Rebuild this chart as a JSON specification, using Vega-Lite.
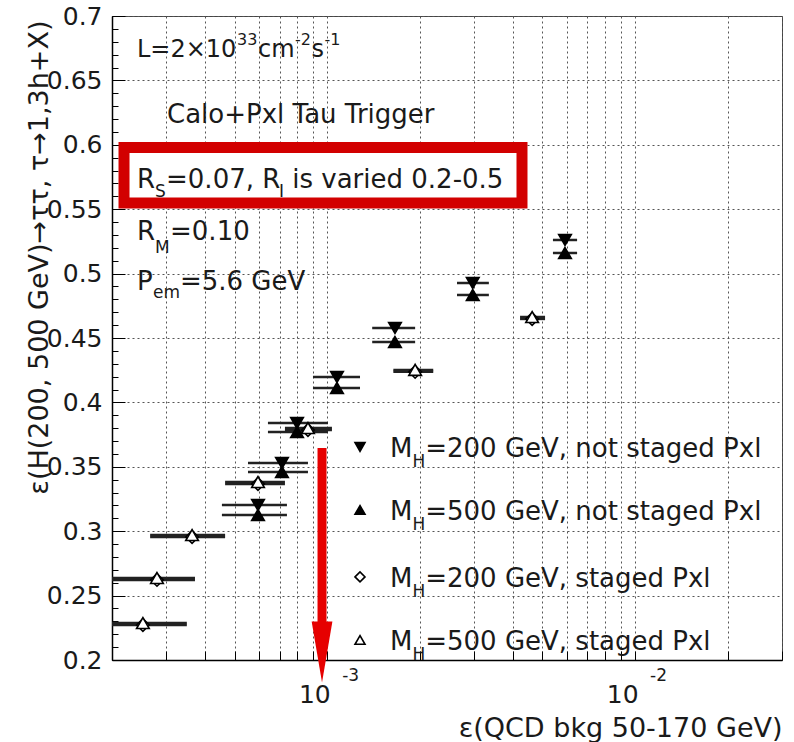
{
  "$schema": "https://vega.github.io/schema/vega-lite/v6.json",
  "width": 670,
  "height": 644,
  "autosize": {"type": "none"},
  "padding": {"left": 112, "top": 16, "right": 12, "bottom": 82},
  "background": "white",
  "config": {"view": {"stroke": "#444", "strokeWidth": 1}, "font": "DejaVu Sans"},
  "datasets": {
    "points": [
      {"series": "200 staged", "x": 0.00463, "y": 0.4648, "xlo": 0.00423, "xhi": 0.0051},
      {"series": "200 staged", "x": 0.00193, "y": 0.4237, "xlo": 0.00164, "xhi": 0.00221},
      {"series": "200 staged", "x": 0.000866, "y": 0.3786, "xlo": 0.000729, "xhi": 0.001036},
      {"series": "200 staged", "x": 0.000596, "y": 0.3367, "xlo": 0.000466, "xhi": 0.000729},
      {"series": "200 staged", "x": 0.000364, "y": 0.2955, "xlo": 0.000266, "xhi": 0.000466},
      {"series": "200 staged", "x": 0.00028, "y": 0.2622, "xlo": 0.00019, "xhi": 0.000372},
      {"series": "200 staged", "x": 0.000252, "y": 0.2272, "xlo": 0.000184, "xhi": 0.00035},
      {"series": "500 staged", "x": 0.00463, "y": 0.4663, "xlo": 0.00423, "xhi": 0.0051},
      {"series": "500 staged", "x": 0.00193, "y": 0.4252, "xlo": 0.00164, "xhi": 0.00221},
      {"series": "500 staged", "x": 0.000866, "y": 0.3801, "xlo": 0.000729, "xhi": 0.001036},
      {"series": "500 staged", "x": 0.000596, "y": 0.3382, "xlo": 0.000466, "xhi": 0.000729},
      {"series": "500 staged", "x": 0.000364, "y": 0.297, "xlo": 0.000266, "xhi": 0.000466},
      {"series": "500 staged", "x": 0.00028, "y": 0.2637, "xlo": 0.00019, "xhi": 0.000372},
      {"series": "500 staged", "x": 0.000252, "y": 0.2287, "xlo": 0.000184, "xhi": 0.00035},
      {"series": "200 not staged", "x": 0.00592, "y": 0.5261, "xlo": 0.00541, "xhi": 0.00648},
      {"series": "200 not staged", "x": 0.00297, "y": 0.4927, "xlo": 0.00264, "xhi": 0.00335},
      {"series": "200 not staged", "x": 0.00166, "y": 0.4578, "xlo": 0.0014, "xhi": 0.00193},
      {"series": "200 not staged", "x": 0.001076, "y": 0.4197, "xlo": 0.000899, "xhi": 0.001278},
      {"series": "200 not staged", "x": 0.000798, "y": 0.384, "xlo": 0.000642, "xhi": 0.001006},
      {"series": "200 not staged", "x": 0.000713, "y": 0.353, "xlo": 0.000553, "xhi": 0.000866},
      {"series": "200 not staged", "x": 0.000596, "y": 0.3203, "xlo": 0.000455, "xhi": 0.00074},
      {"series": "500 not staged", "x": 0.00592, "y": 0.516, "xlo": 0.00541, "xhi": 0.00648},
      {"series": "500 not staged", "x": 0.00297, "y": 0.4834, "xlo": 0.00264, "xhi": 0.00335},
      {"series": "500 not staged", "x": 0.00166, "y": 0.4469, "xlo": 0.0014, "xhi": 0.00193},
      {"series": "500 not staged", "x": 0.001076, "y": 0.4112, "xlo": 0.000899, "xhi": 0.001278},
      {"series": "500 not staged", "x": 0.000798, "y": 0.377, "xlo": 0.000642, "xhi": 0.001006},
      {"series": "500 not staged", "x": 0.000713, "y": 0.346, "xlo": 0.000553, "xhi": 0.000866},
      {"series": "500 not staged", "x": 0.000596, "y": 0.3126, "xlo": 0.000455, "xhi": 0.00074}
    ],
    "legend": [
      {"series": "200 not staged", "sy": 0.3654, "ty": 0.3576, "tys": 0.3498, "label": "=200 GeV, not staged Pxl"},
      {"series": "500 not staged", "sy": 0.3165, "ty": 0.3087, "tys": 0.3009, "label": "=500 GeV, not staged Pxl"},
      {"series": "200 staged", "sy": 0.2645, "ty": 0.2567, "tys": 0.2489, "label": "=200 GeV, staged Pxl"},
      {"series": "500 staged", "sy": 0.2156, "ty": 0.2078, "tys": 0.2, "label": "=500 GeV, staged Pxl"}
    ],
    "lumi": [
      {"t": "L=2×10", "x": 0.0002411, "y": 0.6682},
      {"t": "cm", "x": 0.0005961, "y": 0.6682},
      {"t": "s", "x": 0.0008893, "y": 0.6682}
    ],
    "lumisup": [
      {"t": "33", "x": 0.0005093, "y": 0.6775},
      {"t": "-2", "x": 0.0007858, "y": 0.6775},
      {"t": "-1", "x": 0.00098, "y": 0.6775}
    ],
    "notes": [
      {"t": "Calo+Pxl Tau Trigger", "x": 0.0003018, "y": 0.6169},
      {"t": "R", "x": 0.0002411, "y": 0.5665},
      {"t": "=0.07, R", "x": 0.0002996, "y": 0.5665},
      {"t": "is varied 0.2-0.5", "x": 0.00077, "y": 0.5665},
      {"t": "R", "x": 0.0002411, "y": 0.5261},
      {"t": "=0.10", "x": 0.0003087, "y": 0.5261},
      {"t": "P", "x": 0.0002411, "y": 0.4873},
      {"t": "=5.6 GeV", "x": 0.0003325, "y": 0.4873}
    ],
    "smallnotes": [
      {"t": "S", "x": 0.0002759, "y": 0.5595},
      {"t": "I", "x": 0.0006973, "y": 0.5595},
      {"t": "M", "x": 0.0002759, "y": 0.516},
      {"t": "em", "x": 0.0002718, "y": 0.4811}
    ],
    "box": [{"x": 0.0002188, "x2": 0.004292, "y": 0.598, "y2": 0.5548}],
    "arrow": [{"x": 0.000962, "y": 0.3646, "y2": 0.2295, "yh": 0.2062}],
    "xsup": [{"x": 0.001, "t": "-3"}, {"x": 0.01, "t": "-2"}]
  },
  "resolve": {"axis": {"x": "independent", "y": "independent"}},
  "layer": [
    {
      "data": {"name": "points"},
      "mark": {"type": "rule", "color": "#222", "strokeWidth": 2.5, "clip": true},
      "encoding": {
        "x": {
          "field": "xlo", "type": "quantitative",
          "scale": {"type": "log", "domain": [0.0002, 0.03], "nice": false},
          "axis": {
            "values": [0.0002, 0.0003, 0.0004, 0.0005, 0.0006, 0.0007, 0.0008, 0.0009, 0.001, 0.002, 0.003, 0.004, 0.005, 0.006, 0.007, 0.008, 0.009, 0.01, 0.02, 0.03],
            "labelExpr": "datum.value == 0.001 || datum.value == 0.01 ? '10' : ''",
            "grid": true, "gridDash": [2, 3], "gridColor": "#555", "gridWidth": 1,
            "tickSize": -9, "tickColor": "black", "domainColor": "black", "domainWidth": 1.5,
            "labelFont": "DejaVu Sans", "labelFontSize": 25, "labelColor": "#1a1a1a",
            "labelAlign": "right", "labelOffset": 3, "labelBaseline": "alphabetic", "labelPadding": 51,
            "labelFlush": false, "labelOverlap": false, "labelBound": false,
            "title": "ε(QCD bkg 50-170 GeV)", "titleFont": "DejaVu Sans", "titleFontSize": 27, "titleFontWeight": "normal", "titleColor": "#1a1a1a",
            "titleAnchor": "end", "titleAlign": "right", "titleBaseline": "alphabetic", "titleX": 670, "titleY": 76
          }
        },
        "x2": {"field": "xhi"},
        "y": {
          "field": "y", "type": "quantitative",
          "scale": {"domain": [0.2, 0.7], "nice": false, "zero": false},
          "axis": {
            "values": [0.2, 0.25, 0.3, 0.35, 0.4, 0.45, 0.5, 0.55, 0.6, 0.65, 0.7],
            "format": ".2~f",
            "grid": true, "gridDash": [2, 3], "gridColor": "#555", "gridWidth": 1,
            "tickSize": -13, "tickColor": "black", "domainColor": "black", "domainWidth": 1.5,
            "labelFont": "DejaVu Sans", "labelFontSize": 25, "labelColor": "#1a1a1a", "labelPadding": 23,
            "labelBaseline": "middle", "labelFlush": false, "labelOverlap": false, "labelBound": false,
            "title": "ε(H(200, 500 GeV)→ττ, τ→1,3h+X)", "titleFont": "DejaVu Sans", "titleFontSize": 27, "titleFontWeight": "normal", "titleColor": "#1a1a1a",
            "titleAnchor": "end", "titleAngle": 270, "titleAlign": "right", "titleBaseline": "alphabetic", "titleX": -65, "titleY": 4
          }
        }
      }
    },
    {
      "data": {"name": "points"},
      "mark": {"type": "point", "filled": true, "stroke": "black", "strokeWidth": 1.6, "opacity": 1},
      "encoding": {
        "x": {"field": "x", "type": "quantitative", "scale": {"type": "log", "domain": [0.0002, 0.03], "nice": false}, "axis": null},
        "y": {
          "field": "y", "type": "quantitative", "scale": {"domain": [0.2, 0.7], "nice": false, "zero": false},
          "axis": {
            "values": [0.2, 0.21, 0.22, 0.23, 0.24, 0.25, 0.26, 0.27, 0.28, 0.29, 0.3, 0.31, 0.32, 0.33, 0.34, 0.35, 0.36, 0.37, 0.38, 0.39, 0.4, 0.41, 0.42, 0.43, 0.44, 0.45, 0.46, 0.47, 0.48, 0.49, 0.5, 0.51, 0.52, 0.53, 0.54, 0.55, 0.56, 0.57, 0.58, 0.59, 0.6, 0.61, 0.62, 0.63, 0.64, 0.65, 0.66, 0.67, 0.68, 0.69, 0.7],
            "labels": false, "grid": false, "domain": false, "tickSize": -6, "tickColor": "black", "title": null, "orient": "left"
          }
        },
        "shape": {"field": "series", "type": "nominal", "scale": {"domain": ["200 not staged", "500 not staged", "200 staged", "500 staged"], "range": ["triangle-down", "triangle-up", "diamond", "triangle-up"]}, "legend": null},
        "fill": {"field": "series", "type": "nominal", "scale": {"domain": ["200 not staged", "500 not staged", "200 staged", "500 staged"], "range": ["black", "black", "white", "white"]}, "legend": null},
        "size": {"field": "series", "type": "ordinal", "scale": {"domain": ["200 not staged", "500 not staged", "200 staged", "500 staged"], "range": [160, 160, 90, 160]}, "legend": null}
      }
    },
    {
      "data": {"name": "legend"},
      "mark": {"type": "point", "filled": true, "stroke": "black", "strokeWidth": 1.6, "opacity": 1, "size": 100},
      "encoding": {
        "x": {"datum": 0.001278, "type": "quantitative", "scale": {"type": "log", "domain": [0.0002, 0.03], "nice": false}, "axis": null},
        "y": {"field": "sy", "type": "quantitative", "scale": {"domain": [0.2, 0.7], "nice": false, "zero": false}, "axis": null},
        "shape": {"field": "series", "type": "nominal", "legend": null},
        "fill": {"field": "series", "type": "nominal", "legend": null}
      }
    },
    {
      "data": {"name": "legend"},
      "mark": {"type": "text", "font": "DejaVu Sans", "fontSize": 26, "align": "left", "baseline": "alphabetic", "color": "#1a1a1a"},
      "encoding": {
        "x": {"datum": 0.0016, "type": "quantitative", "axis": null},
        "y": {"field": "ty", "type": "quantitative", "axis": null},
        "text": {"value": "M"}
      }
    },
    {
      "data": {"name": "legend"},
      "mark": {"type": "text", "font": "DejaVu Sans", "fontSize": 17, "align": "left", "baseline": "alphabetic", "color": "#1a1a1a"},
      "encoding": {
        "x": {"datum": 0.001891, "type": "quantitative", "axis": null},
        "y": {"field": "tys", "type": "quantitative", "axis": null},
        "text": {"value": "H"}
      }
    },
    {
      "data": {"name": "legend"},
      "mark": {"type": "text", "font": "DejaVu Sans", "fontSize": 26, "align": "left", "baseline": "alphabetic", "color": "#1a1a1a"},
      "encoding": {
        "x": {"datum": 0.002081, "type": "quantitative", "axis": null},
        "y": {"field": "ty", "type": "quantitative", "axis": null},
        "text": {"field": "label"}
      }
    },
    {
      "data": {"name": "box"},
      "mark": {"type": "rect", "fill": "white", "stroke": "#d20000", "strokeWidth": 11},
      "encoding": {
        "x": {"field": "x", "type": "quantitative", "axis": null},
        "x2": {"field": "x2"},
        "y": {"field": "y", "type": "quantitative", "axis": null},
        "y2": {"field": "y2"}
      }
    },
    {
      "data": {"name": "lumi"},
      "mark": {"type": "text", "font": "DejaVu Sans", "fontSize": 24, "align": "left", "baseline": "alphabetic", "color": "#1a1a1a"},
      "encoding": {
        "x": {"field": "x", "type": "quantitative", "axis": null},
        "y": {"field": "y", "type": "quantitative", "axis": null},
        "text": {"field": "t"}
      }
    },
    {
      "data": {"name": "lumisup"},
      "mark": {"type": "text", "font": "DejaVu Sans", "fontSize": 16, "align": "left", "baseline": "alphabetic", "color": "#1a1a1a"},
      "encoding": {
        "x": {"field": "x", "type": "quantitative", "axis": null},
        "y": {"field": "y", "type": "quantitative", "axis": null},
        "text": {"field": "t"}
      }
    },
    {
      "data": {"name": "notes"},
      "mark": {"type": "text", "font": "DejaVu Sans", "fontSize": 26, "align": "left", "baseline": "alphabetic", "color": "#1a1a1a"},
      "encoding": {
        "x": {"field": "x", "type": "quantitative", "axis": null},
        "y": {"field": "y", "type": "quantitative", "axis": null},
        "text": {"field": "t"}
      }
    },
    {
      "data": {"name": "smallnotes"},
      "mark": {"type": "text", "font": "DejaVu Sans", "fontSize": 17, "align": "left", "baseline": "alphabetic", "color": "#1a1a1a"},
      "encoding": {
        "x": {"field": "x", "type": "quantitative", "axis": null},
        "y": {"field": "y", "type": "quantitative", "axis": null},
        "text": {"field": "t"}
      }
    },
    {
      "data": {"name": "xsup"},
      "mark": {"type": "text", "font": "DejaVu Sans", "fontSize": 17, "align": "left", "baseline": "alphabetic", "color": "#1a1a1a", "dx": 15, "dy": 21},
      "encoding": {
        "x": {"field": "x", "type": "quantitative", "axis": null},
        "y": {"datum": 0.2, "type": "quantitative", "axis": null},
        "text": {"field": "t"}
      }
    },
    {
      "data": {"name": "arrow"},
      "mark": {"type": "rule", "color": "#e60000", "strokeWidth": 9},
      "encoding": {
        "x": {"field": "x", "type": "quantitative", "axis": null},
        "y": {"field": "y", "type": "quantitative", "axis": null},
        "y2": {"field": "y2"}
      }
    },
    {
      "data": {"name": "arrow"},
      "mark": {"type": "point", "filled": true, "color": "#e60000", "opacity": 1, "strokeWidth": 0, "size": 3721, "shape": "M-0.34,-1L0.34,-1L0,1Z"},
      "encoding": {
        "x": {"field": "x", "type": "quantitative", "axis": null},
        "y": {"field": "yh", "type": "quantitative", "axis": null}
      }
    }
  ]
}
